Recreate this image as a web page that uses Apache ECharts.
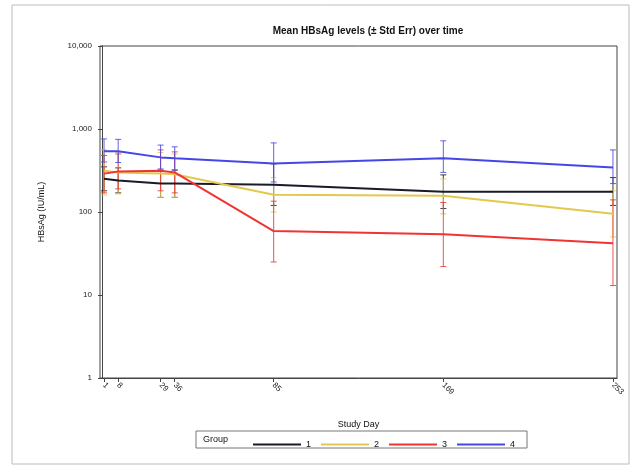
<!DOCTYPE html>
<html><head><meta charset="utf-8">
<script src="https://cdn.jsdelivr.net/npm/echarts@6/dist/echarts.min.js"></script>
<style>html,body{margin:0;padding:0;background:#fff}#c{width:638px;height:470px}</style>
</head><body><div id="c"></div>
<script>
const days = [1, 8, 29, 36, 85, 169, 253];
const groups = ['1', '2', '3', '4'];
const g1 = [252, 239, 220, 220, 213, 175, 175];
const g1Lo = [180, 170, 150, 150, 120, 110, 120];
const g1Hi = [350, 340, 320, 320, 380, 280, 260];
const g2 = [315, 300, 290, 285, 161, 157, 95];
const g2Lo = [160, 165, 150, 150, 100, 95, 50];
const g2Hi = [560, 520, 520, 500, 260, 250, 180];
const g3 = [290, 307, 315, 300, 59, 54, 42];
const g3Lo = [170, 190, 180, 170, 25, 22, 13];
const g3Hi = [480, 500, 560, 530, 135, 130, 140];
const g4 = [540, 540, 455, 443, 385, 443, 344];
const g4Lo = [400, 395, 330, 320, 230, 300, 220];
const g4Hi = [760, 750, 640, 610, 680, 720, 560];
const colors = ['#1a1a2a', '#e3c84e', '#f03434', '#4646e6'];

const means = [g1, g2, g3, g4];
const lows = [g1Lo, g2Lo, g3Lo, g4Lo];
const highs = [g1Hi, g2Hi, g3Hi, g4Hi];

const font = 'Liberation Sans';
const series = [];
groups.forEach((g, i) => {
  series.push({
    name: g, type: 'line', symbol: 'none', animation: false,
    lineStyle: { color: colors[i], width: 2 }, itemStyle: { color: colors[i] },
    data: days.map((d, j) => [d, means[i][j]]), z: 3
  });
  series.push({
    name: g + 'err', type: 'custom', animation: false, z: 2,
    data: days.map((d, j) => [d, lows[i][j], highs[i][j]]),
    renderItem: function (params, api) {
      const lo = api.coord([api.value(0), api.value(1)]);
      const hi = api.coord([api.value(0), api.value(2)]);
      const w = 3;
      const st = { stroke: colors[i], lineWidth: 1, opacity: 0.85 };
      return { type: 'group', children: [
        { type: 'line', shape: { x1: lo[0], y1: lo[1], x2: hi[0], y2: hi[1] }, style: st },
        { type: 'line', shape: { x1: lo[0] - w, y1: lo[1], x2: lo[0] + w, y2: lo[1] }, style: st },
        { type: 'line', shape: { x1: hi[0] - w, y1: hi[1], x2: hi[0] + w, y2: hi[1] }, style: st }
      ]};
    }
  });
});

const chart = echarts.init(document.getElementById('c'), null, { renderer: 'canvas' });
chart.setOption({
  backgroundColor: '#fff',
  textStyle: { fontFamily: font },
  title: { text: 'Mean HBsAg levels (± Std Err) over time', left: 363, textAlign: 'center', top: 21,
    textStyle: { fontSize: 10, fontWeight: 'bold', color: '#111', fontFamily: font } },
  grid: { left: 100, right: 21, top: 46, bottom: 92, show: true, borderColor: '#444', borderWidth: 1 },
  legend: {
    data: groups, left: 248, top: 435, itemWidth: 48, itemHeight: 8, itemGap: 10,
    icon: 'path://M0,3 L48,3 L48,5 L0,5 Z',
    textStyle: { fontSize: 9, color: '#111', fontFamily: font }
  },
  graphic: [
    { type: 'rect', shape: { x: 12, y: 5, width: 617, height: 459 }, style: { fill: 'none', stroke: '#bbb', lineWidth: 1 } },
    { type: 'rect', shape: { x: 196, y: 431, width: 331, height: 17 }, style: { fill: 'none', stroke: '#777', lineWidth: 1 } },
    { type: 'text', left: 203, top: 435, style: { text: 'Group', fontSize: 9, fill: '#111', fontFamily: font } }
  ],
  xAxis: {
    type: 'value', min: -1, max: 255, name: 'Study Day', nameLocation: 'middle', nameGap: 42,
    nameTextStyle: { fontSize: 9, color: '#111', fontFamily: font },
    axisLine: { lineStyle: { color: '#444' } },
    axisTick: { show: true, customValues: days, length: 4, lineStyle: { color: '#444' } },
    axisLabel: { customValues: days, rotate: -45, fontSize: 8, color: '#222', margin: 6, fontFamily: font },
    splitLine: { show: false }
  },
  yAxis: {
    type: 'log', logBase: 10, min: 1, max: 10000, name: 'HBsAg (IU/mL)', nameLocation: 'middle', nameGap: 54,
    nameTextStyle: { fontSize: 9, color: '#111', fontFamily: font },
    axisLine: { show: true, lineStyle: { color: '#444' } },
    axisTick: { show: true, length: 4, lineStyle: { color: '#444' } },
    axisLabel: { fontSize: 8, color: '#222', fontFamily: font, formatter: v => v.toLocaleString('en-US') },
    splitLine: { show: false }
  },
  series: series
});
</script></body></html>
